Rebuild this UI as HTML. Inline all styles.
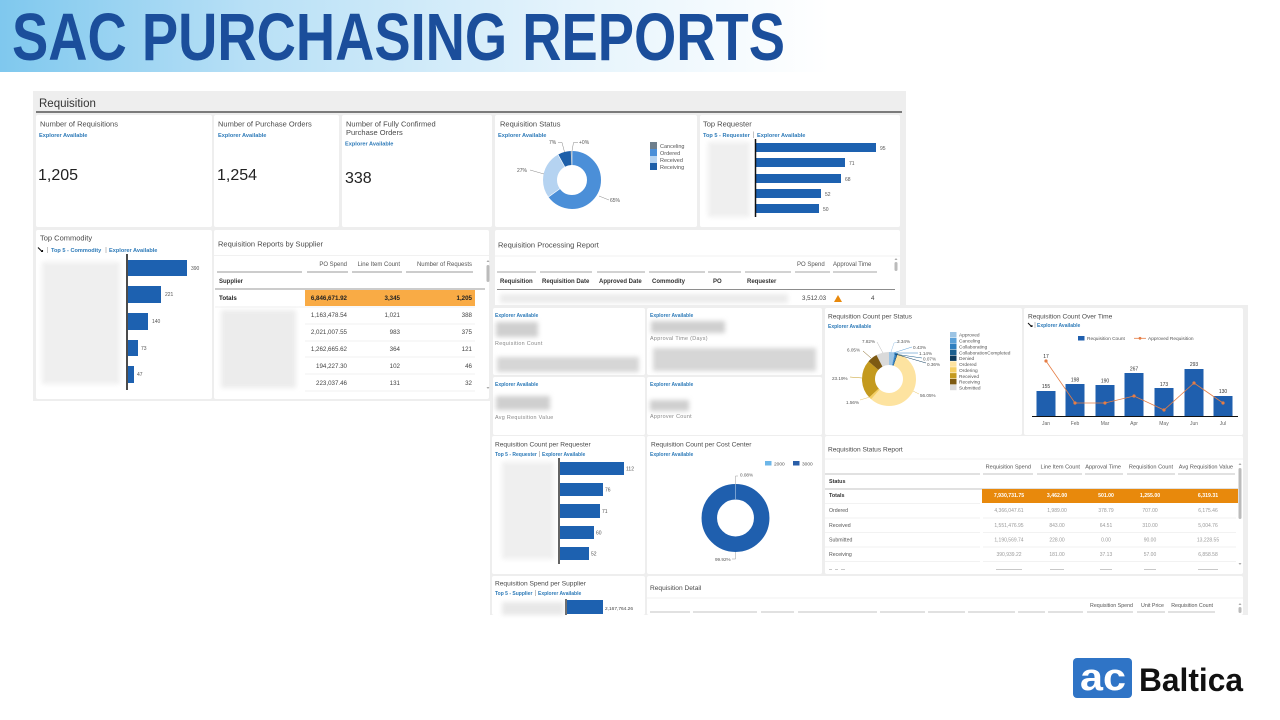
<!DOCTYPE html>
<html><head><meta charset="utf-8">
<style>
html,body{margin:0;padding:0;background:#fff;width:1280px;height:720px;overflow:hidden}
svg{display:block}
text{font-family:"Liberation Sans",Arial,sans-serif}
.t{font-size:7.5px;fill:#4a4a4a}
.t2{font-size:6.6px;fill:#4a4a4a}
.ea{font-size:5.6px;font-weight:bold;fill:#2d7ab8}
.ea2{font-size:5px;font-weight:bold;fill:#2d7ab8}
.h{font-size:6px;fill:#555}
.hb{font-size:6px;font-weight:bold;fill:#333}
.v{font-size:6.2px;fill:#444}
.vb{font-size:6.2px;font-weight:bold;fill:#222}
.sl{font-size:5px;fill:#555}
.lg{font-size:5.5px;fill:#555}
.sm{font-size:4.8px;fill:#555}
.gv{font-size:5px;fill:#9a9a9a}
.gl{font-size:5.4px;fill:#888;letter-spacing:0.3px}
</style></head><body>
<svg width="1280" height="720" viewBox="0 0 1280 720" xmlns="http://www.w3.org/2000/svg">
<defs>
<linearGradient id="tg" x1="0" x2="1" y1="0" y2="0">
<stop offset="0" stop-color="#7fc8ee"/>
<stop offset="0.3" stop-color="#b8e0f6"/>
<stop offset="0.7" stop-color="#e6f4fc"/>
<stop offset="1" stop-color="#ffffff"/>
</linearGradient>
<filter id="bl" x="-30%" y="-60%" width="160%" height="220%"><feGaussianBlur stdDeviation="2.5"/></filter>
</defs>

<!-- Title band -->
<rect x="0" y="0" width="830" height="72" fill="url(#tg)"/>
<text x="12" y="60" font-size="67" font-weight="bold" fill="#1b4e9b" textLength="773" lengthAdjust="spacingAndGlyphs">SAC PURCHASING REPORTS</text>

<!-- ================= UPPER SCREENSHOT ================= -->
<rect x="33" y="91" width="873" height="310" fill="#eeeeee"/>
<text x="39" y="107" font-size="11.5" fill="#333">Requisition</text>
<line x1="36" y1="112" x2="902" y2="112" stroke="#555" stroke-width="1.5"/>

<!-- row 1 tiles -->
<rect x="36" y="115" width="176" height="112" rx="2" fill="#fff"/>
<rect x="214" y="115" width="125" height="112" rx="2" fill="#fff"/>
<rect x="342" y="115" width="150" height="112" rx="2" fill="#fff"/>
<rect x="495" y="115" width="202" height="112" rx="2" fill="#fff"/>
<rect x="700" y="115" width="200" height="112" rx="2" fill="#fff"/>
<!-- row 2 tiles -->
<rect x="36" y="230" width="176" height="169" rx="2" fill="#fff"/>
<rect x="214" y="230" width="275" height="169" rx="2" fill="#fff"/>
<rect x="495" y="230" width="405" height="80" rx="2" fill="#fff"/>

<!-- KPI tiles -->
<text x="40" y="126.5" class="t">Number of Requisitions</text>
<text x="39" y="137" class="ea">Explorer Available</text>
<text x="38" y="180" font-size="16" fill="#222">1,205</text>

<text x="218" y="126.5" class="t">Number of Purchase Orders</text>
<text x="218" y="137" class="ea">Explorer Available</text>
<text x="217" y="180" font-size="16" fill="#222">1,254</text>

<text x="346" y="126.5" class="t">Number of Fully Confirmed</text>
<text x="346" y="135" class="t">Purchase Orders</text>
<text x="345" y="145.5" class="ea">Explorer Available</text>
<text x="345" y="183" font-size="16" fill="#222">338</text>

<!-- Requisition Status donut -->
<text x="500" y="126.5" class="t">Requisition Status</text>
<text x="498" y="137" class="ea">Explorer Available</text>
<g transform="rotate(-90 572 180)" fill="none" stroke-width="14">
<circle cx="572" cy="180" r="22" stroke="#4b8fd8" stroke-dasharray="89.85 200" stroke-dashoffset="0"/>
<circle cx="572" cy="180" r="22" stroke="#b5d3f1" stroke-dasharray="37.32 200" stroke-dashoffset="-89.85"/>
<circle cx="572" cy="180" r="22" stroke="#1d5fa9" stroke-dasharray="9.9 200" stroke-dashoffset="-127.17"/>
<circle cx="572" cy="180" r="22" stroke="#6e7f8d" stroke-dasharray="0.6 200" stroke-dashoffset="-137.3"/>
</g>
<g stroke="#fff" stroke-width="0.6">
<line x1="572" y1="151" x2="572" y2="165"/>
<line x1="548.5" y1="197" x2="559.9" y2="188.8"/>
<line x1="558" y1="154.6" x2="564.8" y2="166.9"/>
</g>
<g stroke="#888" stroke-width="0.5" fill="none">
<polyline points="558,142.5 562,142.5 564.5,152"/>
<polyline points="578,142.5 573.5,142.5 572,151"/>
<polyline points="530,170 544,174"/>
<polyline points="609,200 599,196"/>
</g>
<text x="549" y="144" class="sl">7%</text>
<text x="579" y="144" class="sl">+0%</text>
<text x="517" y="172" class="sl">27%</text>
<text x="610" y="202" class="sl">65%</text>
<rect x="650" y="142" width="7" height="7" fill="#6e7f8d"/>
<rect x="650" y="149" width="7" height="7" fill="#4b8fd8"/>
<rect x="650" y="156" width="7" height="7" fill="#b5d3f1"/>
<rect x="650" y="163" width="7" height="7" fill="#1d5fa9"/>
<text x="660" y="148" class="lg">Canceling</text>
<text x="660" y="155" class="lg">Ordered</text>
<text x="660" y="162" class="lg">Received</text>
<text x="660" y="169" class="lg">Receiving</text>

<!-- Top Requester -->
<text x="703" y="126.5" class="t">Top Requester</text>
<text x="703" y="137" class="ea">Top 5 - Requester</text>
<line x1="753.5" y1="131.5" x2="753.5" y2="138" stroke="#999" stroke-width="0.6"/>
<text x="757" y="137" class="ea">Explorer Available</text>
<rect x="708" y="142" width="42" height="75" fill="#efefef" filter="url(#bl)"/>
<g fill="#1d61b0">
<rect x="756" y="143" width="120" height="9"/>
<rect x="756" y="158" width="89" height="9"/>
<rect x="756" y="174" width="85" height="9"/>
<rect x="756" y="189" width="65" height="9"/>
<rect x="756" y="204" width="63" height="9"/>
</g>
<line x1="755.5" y1="139" x2="755.5" y2="217" stroke="#111" stroke-width="1.5"/>
<text x="880" y="150" class="sl">95</text>
<text x="849" y="165" class="sl">71</text>
<text x="845" y="181" class="sl">68</text>
<text x="825" y="196" class="sl">52</text>
<text x="823" y="211" class="sl">50</text>

<!-- Top Commodity -->
<text x="40" y="240.5" class="t">Top Commodity</text>
<path d="M38,247.5 L42,251.5 M41,251.5 L42.5,251.5 L42.5,250" stroke="#111" stroke-width="1.1" fill="none"/>
<line x1="47.5" y1="247" x2="47.5" y2="253" stroke="#999" stroke-width="0.6"/>
<text x="51" y="252" class="ea">Top 5 - Commodity</text>
<line x1="106" y1="247" x2="106" y2="253" stroke="#999" stroke-width="0.6"/>
<text x="109" y="252" class="ea">Explorer Available</text>
<rect x="42" y="262" width="78" height="122" fill="#efefef" filter="url(#bl)"/>
<g fill="#1d61b0">
<rect x="128" y="260" width="59" height="16"/>
<rect x="128" y="286" width="33" height="17"/>
<rect x="128" y="313" width="20" height="17"/>
<rect x="128" y="340" width="10" height="16"/>
<rect x="128" y="366" width="6" height="17"/>
</g>
<line x1="127" y1="254" x2="127" y2="390" stroke="#111" stroke-width="1.5"/>
<text x="191" y="270" class="sl">390</text>
<text x="165" y="296" class="sl">221</text>
<text x="152" y="323" class="sl">140</text>
<text x="141" y="350" class="sl">73</text>
<text x="137" y="376" class="sl">47</text>

<!-- Requisition Reports by Supplier -->
<text x="218" y="246.5" class="t">Requisition Reports by Supplier</text>
<line x1="214" y1="255.5" x2="489" y2="255.5" stroke="#e4e4e4" stroke-width="0.6"/>
<text x="347" y="266" class="h" text-anchor="end">PO Spend</text>
<text x="400" y="266" class="h" text-anchor="end">Line Item Count</text>
<text x="472" y="266" class="h" text-anchor="end">Number of Requests</text>
<g stroke="#777" stroke-width="0.7">
<line x1="217" y1="272" x2="302" y2="272"/>
<line x1="307" y1="272" x2="348" y2="272"/>
<line x1="352" y1="272" x2="402" y2="272"/>
<line x1="406" y1="272" x2="473" y2="272"/>
</g>
<text x="219" y="283" class="hb">Supplier</text>
<line x1="215" y1="289" x2="485" y2="289" stroke="#777" stroke-width="0.7"/>
<rect x="305" y="290" width="170" height="16" fill="#f9ab45"/>
<text x="219" y="300" class="vb">Totals</text>
<text x="347" y="300" class="vb" text-anchor="end">6,846,671.92</text>
<text x="400" y="300" class="vb" text-anchor="end">3,345</text>
<text x="472" y="300" class="vb" text-anchor="end">1,205</text>
<g stroke="#e2e2e2" stroke-width="0.6">
<line x1="215" y1="307" x2="475" y2="307"/>
<line x1="305" y1="324" x2="475" y2="324"/>
<line x1="305" y1="341" x2="475" y2="341"/>
<line x1="305" y1="357" x2="475" y2="357"/>
<line x1="305" y1="374" x2="475" y2="374"/>
<line x1="305" y1="391" x2="475" y2="391"/>
</g>
<rect x="221" y="310" width="75" height="78" fill="#ececec" filter="url(#bl)"/>
<g class="v">
<text x="347" y="317" text-anchor="end">1,163,478.54</text>
<text x="400" y="317" text-anchor="end">1,021</text>
<text x="472" y="317" text-anchor="end">388</text>
<text x="347" y="334" text-anchor="end">2,021,007.55</text>
<text x="400" y="334" text-anchor="end">983</text>
<text x="472" y="334" text-anchor="end">375</text>
<text x="347" y="351" text-anchor="end">1,262,665.62</text>
<text x="400" y="351" text-anchor="end">364</text>
<text x="472" y="351" text-anchor="end">121</text>
<text x="347" y="368" text-anchor="end">194,227.30</text>
<text x="400" y="368" text-anchor="end">102</text>
<text x="472" y="368" text-anchor="end">46</text>
<text x="347" y="385" text-anchor="end">223,037.46</text>
<text x="400" y="385" text-anchor="end">131</text>
<text x="472" y="385" text-anchor="end">32</text>
</g>
<path d="M486.5,262 L488,260 L489.5,262 Z" fill="#aaa"/>
<rect x="486.5" y="265" width="3" height="17" rx="1.5" fill="#bbb"/>
<path d="M486.5,387 L488,389 L489.5,387 Z" fill="#aaa"/>

<!-- Requisition Processing Report -->
<text x="498" y="247.5" class="t">Requisition Processing Report</text>
<line x1="495" y1="256" x2="900" y2="256" stroke="#e4e4e4" stroke-width="0.6"/>
<text x="797" y="266" class="h">PO Spend</text>
<text x="833" y="266" class="h">Approval Time</text>
<g stroke="#888" stroke-width="0.7">
<line x1="497" y1="272" x2="536" y2="272"/>
<line x1="540" y1="272" x2="592" y2="272"/>
<line x1="597" y1="272" x2="645" y2="272"/>
<line x1="649" y1="272" x2="705" y2="272"/>
<line x1="708" y1="272" x2="741" y2="272"/>
<line x1="745" y1="272" x2="791" y2="272"/>
<line x1="795" y1="272" x2="830" y2="272"/>
<line x1="833" y1="272" x2="877" y2="272"/>
</g>
<text x="500" y="283" class="hb">Requisition</text>
<text x="542" y="283" class="hb">Requisition Date</text>
<text x="599" y="283" class="hb">Approved Date</text>
<text x="652" y="283" class="hb">Commodity</text>
<text x="713" y="283" class="hb">PO</text>
<text x="747" y="283" class="hb">Requester</text>
<line x1="497" y1="289.5" x2="895" y2="289.5" stroke="#666" stroke-width="0.7"/>
<rect x="500" y="294" width="288" height="9" fill="#ebebeb" filter="url(#bl)"/>
<text x="802" y="300" class="v">3,512.03</text>
<path d="M834,302 L838,295 L842,302 Z" fill="#e8890c"/>
<text x="871" y="300" class="v">4</text>
<path d="M894.5,260 L896,258 L897.5,260 Z" fill="#aaa"/>
<rect x="894.5" y="262" width="3" height="9" rx="1.5" fill="#bbb"/>

<!-- ================= LOWER SCREENSHOT ================= -->
<rect x="490" y="305" width="758" height="310" fill="#eeeeee"/>

<!-- row A / B KPI tiles -->
<rect x="493" y="308" width="152" height="67" rx="2" fill="#fff"/>
<rect x="647" y="308" width="175" height="67" rx="2" fill="#fff"/>
<rect x="493" y="377" width="152" height="58" rx="2" fill="#fff"/>
<rect x="647" y="377" width="175" height="58" rx="2" fill="#fff"/>

<text x="495" y="317" class="ea2">Explorer Available</text>
<rect x="496" y="322" width="42" height="15" fill="#cfcfcf" filter="url(#bl)"/>
<text x="495" y="345" class="gl">Requisition Count</text>
<rect x="497" y="357" width="142" height="15" fill="#d6d6d6" filter="url(#bl)"/>

<text x="650" y="317" class="ea2">Explorer Available</text>
<rect x="651" y="321" width="74" height="12" fill="#cfcfcf" filter="url(#bl)"/>
<text x="650" y="340" class="gl">Approval Time (Days)</text>
<rect x="653" y="348" width="163" height="23" fill="#d6d6d6" filter="url(#bl)"/>

<text x="495" y="386" class="ea2">Explorer Available</text>
<rect x="496" y="396" width="54" height="14" fill="#cfcfcf" filter="url(#bl)"/>
<text x="495" y="419" class="gl">Avg Requisition Value</text>

<text x="650" y="386" class="ea2">Explorer Available</text>
<rect x="650" y="400" width="39" height="11" fill="#cfcfcf" filter="url(#bl)"/>
<text x="650" y="418" class="gl">Approver Count</text>

<!-- Requisition Count per Status -->
<rect x="825" y="308" width="197" height="127" rx="2" fill="#fff"/>
<text x="828" y="318.5" class="t2">Requisition Count per Status</text>
<text x="828" y="328" class="ea2">Explorer Available</text>
<g transform="rotate(-90 889 379)" fill="none" stroke-width="13">
<circle cx="889" cy="379" r="20.5" stroke="#9cc4e4" stroke-dasharray="4.30 200" stroke-dashoffset="0"/>
<circle cx="889" cy="379" r="20.5" stroke="#5aa0d8" stroke-dasharray="0.55 200" stroke-dashoffset="-4.30"/>
<circle cx="889" cy="379" r="20.5" stroke="#2f7fbf" stroke-dasharray="1.47 200" stroke-dashoffset="-4.85"/>
<circle cx="889" cy="379" r="20.5" stroke="#1b5f8f" stroke-dasharray="0.3 200" stroke-dashoffset="-6.32"/>
<circle cx="889" cy="379" r="20.5" stroke="#0d3a5c" stroke-dasharray="0.46 200" stroke-dashoffset="-6.41"/>
<circle cx="889" cy="379" r="20.5" stroke="#fde3a0" stroke-dasharray="72.20 200" stroke-dashoffset="-6.87"/>
<circle cx="889" cy="379" r="20.5" stroke="#f5cf63" stroke-dasharray="2.01 200" stroke-dashoffset="-79.07"/>
<circle cx="889" cy="379" r="20.5" stroke="#c49a1e" stroke-dasharray="29.87 200" stroke-dashoffset="-81.08"/>
<circle cx="889" cy="379" r="20.5" stroke="#7d5a12" stroke-dasharray="7.79 200" stroke-dashoffset="-110.95"/>
<circle cx="889" cy="379" r="20.5" stroke="#dadada" stroke-dasharray="10.07 200" stroke-dashoffset="-118.74"/>
</g>
<g stroke-width="0.5" fill="none">
<polyline points="891,352 894,343 898,342" stroke="#9cc4e4"/>
<polyline points="893,353 912,347" stroke="#5aa0d8"/>
<polyline points="894,353 918,353" stroke="#2f7fbf"/>
<polyline points="894,354 922,358" stroke="#1b5f8f"/>
<polyline points="895,354 926,363" stroke="#0d3a5c"/>
<polyline points="877,342 883,353" stroke="#bbb"/>
<polyline points="863,351 871,358" stroke="#7d5a12"/>
<polyline points="850,377 862,378" stroke="#c49a1e"/>
<polyline points="860,400 870,397" stroke="#e8c66a"/>
<polyline points="919,394 913,391" stroke="#e8c66a"/>
</g>
<text x="897" y="343" font-size="4.6" fill="#555">3.34%</text>
<text x="913" y="349" font-size="4.6" fill="#555">0.43%</text>
<text x="919" y="355" font-size="4.6" fill="#555">1.14%</text>
<text x="923" y="360.5" font-size="4.6" fill="#555">0.07%</text>
<text x="927" y="366" font-size="4.6" fill="#555">0.36%</text>
<text x="862" y="343" font-size="4.6" fill="#555">7.82%</text>
<text x="847" y="351.5" font-size="4.6" fill="#555">6.05%</text>
<text x="832" y="380" font-size="4.6" fill="#555">23.19%</text>
<text x="846" y="404" font-size="4.6" fill="#555">1.56%</text>
<text x="920" y="397" font-size="4.6" fill="#555">56.05%</text>
<g>
<rect x="950" y="332" width="6.5" height="5.4" fill="#9cc4e4"/>
<rect x="950" y="337.9" width="6.5" height="5.4" fill="#5aa0d8"/>
<rect x="950" y="343.7" width="6.5" height="5.4" fill="#2f7fbf"/>
<rect x="950" y="349.6" width="6.5" height="5.4" fill="#1b5f8f"/>
<rect x="950" y="355.5" width="6.5" height="5.4" fill="#0d3a5c"/>
<rect x="950" y="361.4" width="6.5" height="5.4" fill="#fde3a0"/>
<rect x="950" y="367.2" width="6.5" height="5.4" fill="#f5cf63"/>
<rect x="950" y="373.1" width="6.5" height="5.4" fill="#c49a1e"/>
<rect x="950" y="379" width="6.5" height="5.4" fill="#7d5a12"/>
<rect x="950" y="384.8" width="6.5" height="5.4" fill="#dadada"/>
</g>
<g class="sm">
<text x="959" y="336.7">Approved</text>
<text x="959" y="342.6">Canceling</text>
<text x="959" y="348.4">Collaborating</text>
<text x="959" y="354.3">CollaborationCompleted</text>
<text x="959" y="360.2">Denied</text>
<text x="959" y="366.1">Ordered</text>
<text x="959" y="371.9">Ordering</text>
<text x="959" y="377.8">Received</text>
<text x="959" y="383.7">Receiving</text>
<text x="959" y="389.5">Submitted</text>
</g>

<!-- Requisition Count Over Time -->
<rect x="1024" y="308" width="219" height="127" rx="2" fill="#fff"/>
<text x="1028" y="318.5" class="t2">Requisition Count Over Time</text>
<path d="M1028,323 L1031.5,326.5 M1030.5,326.5 L1032,326.5 L1032,325" stroke="#111" stroke-width="1" fill="none"/>
<line x1="1035" y1="322" x2="1035" y2="328" stroke="#999" stroke-width="0.6"/>
<text x="1037" y="327" class="ea2">Explorer Available</text>
<rect x="1078" y="336" width="6.5" height="4.5" fill="#1f5fae"/>
<text x="1087" y="340" font-size="4.8" fill="#555">Requisition Count</text>
<line x1="1134" y1="338.3" x2="1146" y2="338.3" stroke="#e57d45" stroke-width="0.8"/>
<circle cx="1140" cy="338.3" r="1.4" fill="#e57d45"/>
<text x="1148" y="340" font-size="4.8" fill="#555">Approved Requisition</text>
<g fill="#1f5fae">
<rect x="1036.5" y="391" width="19" height="25"/>
<rect x="1065.5" y="384" width="19" height="32"/>
<rect x="1095.5" y="385" width="19" height="31"/>
<rect x="1124.5" y="373" width="19" height="43"/>
<rect x="1154.5" y="388" width="19" height="28"/>
<rect x="1184.5" y="369" width="19" height="47"/>
<rect x="1213.5" y="396" width="19" height="20"/>
</g>
<polyline points="1046,361 1075,403 1105,403 1134,396 1164,410 1194,383 1223,403" fill="none" stroke="#e57d45" stroke-width="0.8"/>
<g fill="#e57d45">
<circle cx="1046" cy="361" r="1.6"/><circle cx="1075" cy="403" r="1.6"/><circle cx="1105" cy="403" r="1.6"/>
<circle cx="1134" cy="396" r="1.6"/><circle cx="1164" cy="410" r="1.6"/><circle cx="1194" cy="383" r="1.6"/>
<circle cx="1223" cy="403" r="1.6"/>
</g>
<line x1="1032" y1="416.5" x2="1238" y2="416.5" stroke="#111" stroke-width="1"/>
<g font-size="5" fill="#333" text-anchor="middle">
<text x="1046" y="358">17</text>
<text x="1046" y="388">155</text>
<text x="1075" y="381.5">198</text>
<text x="1105" y="382.5">190</text>
<text x="1134" y="370.5">267</text>
<text x="1164" y="386">173</text>
<text x="1194" y="366">293</text>
<text x="1223" y="393">130</text>
</g>
<g font-size="5" fill="#666" text-anchor="middle">
<text x="1046" y="425">Jan</text>
<text x="1075" y="425">Feb</text>
<text x="1105" y="425">Mar</text>
<text x="1134" y="425">Apr</text>
<text x="1164" y="425">May</text>
<text x="1194" y="425">Jun</text>
<text x="1223" y="425">Jul</text>
</g>

<!-- Requisition Count per Requester -->
<rect x="492" y="436" width="153" height="138" rx="2" fill="#fff"/>
<text x="495" y="446.5" class="t2">Requisition Count per Requester</text>
<text x="495" y="456" class="ea2">Top 5 - Requester</text>
<line x1="539.5" y1="451" x2="539.5" y2="457" stroke="#999" stroke-width="0.6"/>
<text x="542" y="456" class="ea2">Explorer Available</text>
<rect x="502" y="462" width="52" height="97" fill="#efefef" filter="url(#bl)"/>
<g fill="#1d61b0">
<rect x="560" y="462" width="64" height="13"/>
<rect x="560" y="483" width="43" height="13"/>
<rect x="560" y="504" width="40" height="14"/>
<rect x="560" y="526" width="34" height="13"/>
<rect x="560" y="547" width="29" height="13"/>
</g>
<line x1="559" y1="458" x2="559" y2="564" stroke="#111" stroke-width="1.3"/>
<text x="626" y="470.5" class="sl">112</text>
<text x="605" y="491.5" class="sl">76</text>
<text x="602" y="513" class="sl">71</text>
<text x="596" y="534.5" class="sl">60</text>
<text x="591" y="555.5" class="sl">52</text>

<!-- Requisition Count per Cost Center -->
<rect x="647" y="436" width="175" height="138" rx="2" fill="#fff"/>
<text x="651" y="446.5" class="t2">Requisition Count per Cost Center</text>
<text x="650" y="456" class="ea2">Explorer Available</text>
<rect x="765" y="461" width="6.5" height="4.5" fill="#6cb6e8"/>
<text x="774" y="465.3" font-size="4.8" fill="#555">2000</text>
<rect x="793" y="461" width="6.5" height="4.5" fill="#2a5ea8"/>
<text x="802" y="465.3" font-size="4.8" fill="#555">3000</text>
<circle cx="735.5" cy="518" r="26.2" fill="none" stroke="#1f5fae" stroke-width="15.5"/>
<line x1="735.5" y1="484" x2="735.5" y2="499" stroke="#cfe3f5" stroke-width="0.5"/>
<polyline points="738,476 735.5,476 735.5,485" fill="none" stroke="#999" stroke-width="0.5"/>
<text x="740" y="476.5" font-size="4.6" fill="#555">0.08%</text>
<polyline points="735.5,552 735.5,559 732,559" fill="none" stroke="#999" stroke-width="0.5"/>
<text x="715" y="561" font-size="4.6" fill="#555">99.92%</text>

<!-- Requisition Status Report -->
<rect x="825" y="436" width="418" height="138" rx="2" fill="#fff"/>
<text x="828" y="451.5" class="t2">Requisition Status Report</text>
<line x1="825" y1="459" x2="1243" y2="459" stroke="#e6e6e6" stroke-width="0.6"/>
<g font-size="5.6" fill="#555" text-anchor="end">
<text x="1031" y="468.5">Requisition Spend</text>
<text x="1080" y="468.5">Line Item Count</text>
<text x="1121" y="468.5">Approval Time</text>
<text x="1173" y="468.5">Requisition Count</text>
<text x="1233" y="468.5">Avg Requisition Value</text>
</g>
<g stroke="#888" stroke-width="0.6">
<line x1="825" y1="474" x2="980" y2="474"/>
<line x1="983" y1="474" x2="1033" y2="474"/>
<line x1="1037" y1="474" x2="1082" y2="474"/>
<line x1="1085" y1="474" x2="1123" y2="474"/>
<line x1="1127" y1="474" x2="1175" y2="474"/>
<line x1="1178" y1="474" x2="1235" y2="474"/>
</g>
<text x="829" y="483" font-size="5.4" font-weight="bold" fill="#333">Status</text>
<line x1="825" y1="489" x2="1238" y2="489" stroke="#888" stroke-width="0.6"/>
<rect x="982" y="489" width="256" height="14" fill="#e8890c"/>
<text x="829" y="497" font-size="5.4" font-weight="bold" fill="#333">Totals</text>
<g font-size="5.2" font-weight="bold" fill="#fff" text-anchor="middle">
<text x="1009" y="497">7,930,731.75</text>
<text x="1057" y="497">3,462.00</text>
<text x="1106" y="497">501.00</text>
<text x="1150" y="497">1,255.00</text>
<text x="1208" y="497">6,319.31</text>
</g>
<g stroke="#e6e6e6" stroke-width="0.6">
<line x1="825" y1="503.5" x2="980" y2="503.5"/>
<line x1="825" y1="518" x2="980" y2="518"/><line x1="983" y1="518" x2="1236" y2="518"/>
<line x1="825" y1="532.5" x2="980" y2="532.5"/><line x1="983" y1="532.5" x2="1236" y2="532.5"/>
<line x1="825" y1="547" x2="980" y2="547"/><line x1="983" y1="547" x2="1236" y2="547"/>
<line x1="825" y1="561.5" x2="980" y2="561.5"/><line x1="983" y1="561.5" x2="1236" y2="561.5"/>
</g>
<g font-size="5.2" fill="#555">
<text x="829" y="512">Ordered</text>
<text x="829" y="527">Received</text>
<text x="829" y="541.5">Submitted</text>
<text x="829" y="556">Receiving</text>
</g>
<g class="gv" text-anchor="middle">
<text x="1009" y="512">4,366,047.61</text><text x="1057" y="512">1,989.00</text><text x="1106" y="512">378.79</text><text x="1150" y="512">707.00</text><text x="1208" y="512">6,175.46</text>
<text x="1009" y="527">1,551,476.95</text><text x="1057" y="527">843.00</text><text x="1106" y="527">64.51</text><text x="1150" y="527">310.00</text><text x="1208" y="527">5,004.76</text>
<text x="1009" y="541.5">1,190,569.74</text><text x="1057" y="541.5">228.00</text><text x="1106" y="541.5">0.00</text><text x="1150" y="541.5">90.00</text><text x="1208" y="541.5">13,228.55</text>
<text x="1009" y="556">390,939.22</text><text x="1057" y="556">181.00</text><text x="1106" y="556">37.13</text><text x="1150" y="556">57.00</text><text x="1208" y="556">6,858.58</text>
</g>
<g fill="#bbb">
<rect x="829" y="569" width="3" height="0.8"/><rect x="835" y="569" width="3" height="0.8"/><rect x="841" y="569" width="4" height="0.8"/>
<rect x="996" y="569" width="26" height="0.8"/><rect x="1050" y="569" width="14" height="0.8"/><rect x="1100" y="569" width="12" height="0.8"/><rect x="1144" y="569" width="12" height="0.8"/><rect x="1198" y="569" width="20" height="0.8"/>
</g>
<path d="M1238.5,465 L1240,463 L1241.5,465 Z" fill="#aaa"/>
<rect x="1238.5" y="468" width="3" height="51" rx="1.5" fill="#bbb"/>
<path d="M1238.5,563 L1240,565 L1241.5,563 Z" fill="#aaa"/>

<!-- Requisition Spend per Supplier -->
<rect x="492" y="576" width="153" height="39" rx="2" fill="#fff"/>
<text x="495" y="585.5" class="t2">Requisition Spend per Supplier</text>
<text x="495" y="595" class="ea2">Top 5 - Supplier</text>
<line x1="535.5" y1="590" x2="535.5" y2="596" stroke="#999" stroke-width="0.6"/>
<text x="538" y="595" class="ea2">Explorer Available</text>
<rect x="502" y="602" width="62" height="13" fill="#e8e8e8" filter="url(#bl)"/>
<rect x="567" y="600" width="36" height="14" fill="#1d61b0"/>
<line x1="566" y1="599" x2="566" y2="615" stroke="#111" stroke-width="1.2"/>
<text x="605" y="610" font-size="4.8" fill="#444">2,167,764.26</text>

<!-- Requisition Detail -->
<rect x="647" y="576" width="596" height="39" rx="2" fill="#fff"/>
<text x="650" y="590" class="t2">Requisition Detail</text>
<line x1="647" y1="598" x2="1243" y2="598" stroke="#e6e6e6" stroke-width="0.6"/>
<g font-size="5.3" fill="#555" text-anchor="end">
<text x="1133" y="607">Requisition Spend</text>
<text x="1164" y="607">Unit Price</text>
<text x="1213" y="607">Requisition Count</text>
</g>
<g stroke="#888" stroke-width="0.6">
<line x1="650" y1="612" x2="690" y2="612"/>
<line x1="693" y1="612" x2="757" y2="612"/>
<line x1="761" y1="612" x2="794" y2="612"/>
<line x1="798" y1="612" x2="877" y2="612"/>
<line x1="880" y1="612" x2="925" y2="612"/>
<line x1="928" y1="612" x2="965" y2="612"/>
<line x1="968" y1="612" x2="1015" y2="612"/>
<line x1="1018" y1="612" x2="1045" y2="612"/>
<line x1="1048" y1="612" x2="1083" y2="612"/>
<line x1="1087" y1="612" x2="1133" y2="612"/>
<line x1="1137" y1="612" x2="1165" y2="612"/>
<line x1="1168" y1="612" x2="1215" y2="612"/>
</g>
<path d="M1238.5,605 L1240,603 L1241.5,605 Z" fill="#aaa"/>
<rect x="1238.5" y="607" width="3" height="6" rx="1.5" fill="#bbb"/>

<!-- Logo -->
<rect x="1073" y="658" width="59" height="40" rx="4" fill="#2f74c6"/>
<text x="1080" y="690" font-size="38" font-weight="bold" fill="#fff" textLength="46" lengthAdjust="spacingAndGlyphs">ac</text>
<text x="1139" y="691" font-size="32" font-weight="bold" fill="#111" textLength="104" lengthAdjust="spacingAndGlyphs">Baltica</text>
</svg>
</body></html>
